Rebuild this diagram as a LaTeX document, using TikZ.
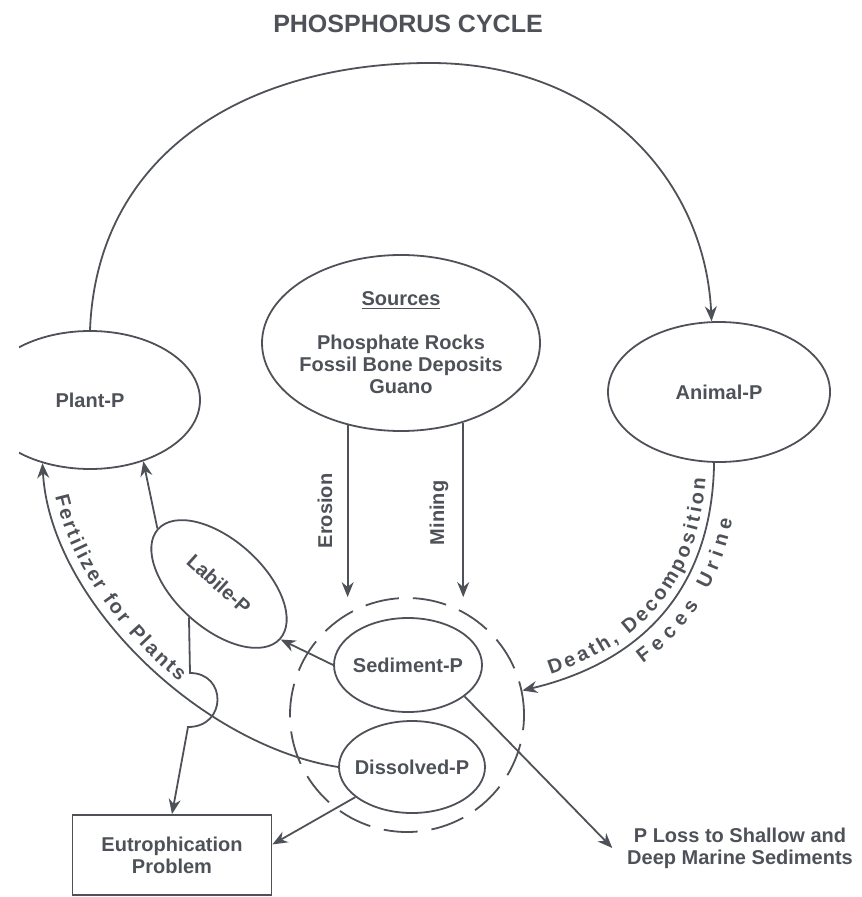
\documentclass[tikz,border=0pt]{standalone}
\usepackage{fontspec}
\setmainfont{Liberation Sans}
\usetikzlibrary{shapes.geometric,decorations.text,arrows.meta}
\definecolor{ink}{RGB}{78,82,88}
\newcommand{\bodyfont}{\fontsize{10}{11}\selectfont\bfseries}

\begin{document}
\begin{tikzpicture}[x=0.5pt,y=-0.5pt,color=ink,line width=0.9pt,font=\bodyfont,>={Stealth[length=7.5pt,width=6pt]},
  blob/.style={ellipse,draw,inner sep=0pt}]
\useasboundingbox (0,0) rectangle (861,897);\clip (19,0) rectangle (861,897);
\node[font=\fontsize{12.5}{14}\selectfont\bfseries] (title) at (408,24){PHOSPHORUS CYCLE};
\node[blob,minimum width=110pt,minimum height=69pt,label=center:Plant-P] (plant) at (90,400){};
\node[blob,minimum width=111pt,minimum height=70pt,label=center:Animal-P] (animal) at (719,392){};
\node[blob,minimum width=139pt,minimum height=88pt,label={[align=center]center:\underline{Sources}\\[11pt]Phosphate Rocks\\Fossil Bone Deposits\\Guano}] (sources) at (401,343){};
\node[blob,dash pattern=on 17pt off 7pt,minimum size=117pt] (pool) at (407,715){};
\node[blob,minimum width=74pt,minimum height=47pt,label=center:Sediment-P] (sed) at (408,665){};
\node[blob,minimum width=73pt,minimum height=46pt,label=center:Dissolved-P] (dis) at (412,767){};
\node[blob,rotate=-42,minimum width=82pt,minimum height=44pt,label={[rotate=-42]center:Labile-P}] (labile) at (219,584){};
\node[draw,minimum width=99.5pt,minimum height=40pt,align=center] (eutro) at (172,855){Eutrophication\\Problem};
\node[align=center,inner sep=7pt] (loss) at (740,848){P Loss to Shallow and\\Deep Marine Sediments};
\node[rotate=90] (erosion) at (325,511){Erosion};\node[rotate=90] (mining) at (439,513){Mining};
\coordinate (hop) at (190,673);
\draw[->] (plant.north) .. controls (97,150) and (250,63) .. (430,63) .. controls (600,63) and (705,180) .. (animal.96);
\draw[->] (sources.237) -- (sources.237 |- pool.north);\draw[->] (sources.-52) -- (sources.-52 |- pool.north);
\draw[->] (sed.west) -- (labile.east);\draw[->] (labile.west) -- (plant.-49);
\draw[->] (labile.south) -- (hop) .. controls (227,673) and (227,727) .. (188,727) -- (eutro.north);
\draw[->] (dis.west) .. controls (200,745) and (50,600) .. (plant.233);
\draw[->] (dis.208) -- (eutro.6);\draw[->] (sed.-29) -- (loss.west);
\draw[->] (animal.-94) .. controls (712,600) and (630,665) .. (pool.12);
\path[decorate,decoration={text along path,raise=4pt,text={|\bodyfont\color{ink}|Fertilizer for Plants},text align={fit to path,left indent=18pt,right indent=92pt}}] (plant.233) .. controls (50,600) and (200,745) .. (dis.west);
\path[decorate,decoration={text along path,raise=4pt,text={|\bodyfont\color{ink}|Death, Decomposition},text align={fit to path,left indent=16pt,right indent=8pt}}] (pool.12) .. controls (630,665) and (712,600) .. (animal.-94);
\path[decorate,decoration={text along path,raise=-12pt,text={|\bodyfont\color{ink}|Feces Urine},text align={fit to path,left indent=58pt,right indent=26pt}}] (pool.12) .. controls (630,665) and (712,600) .. (animal.-94);
\end{tikzpicture}
\end{document}
